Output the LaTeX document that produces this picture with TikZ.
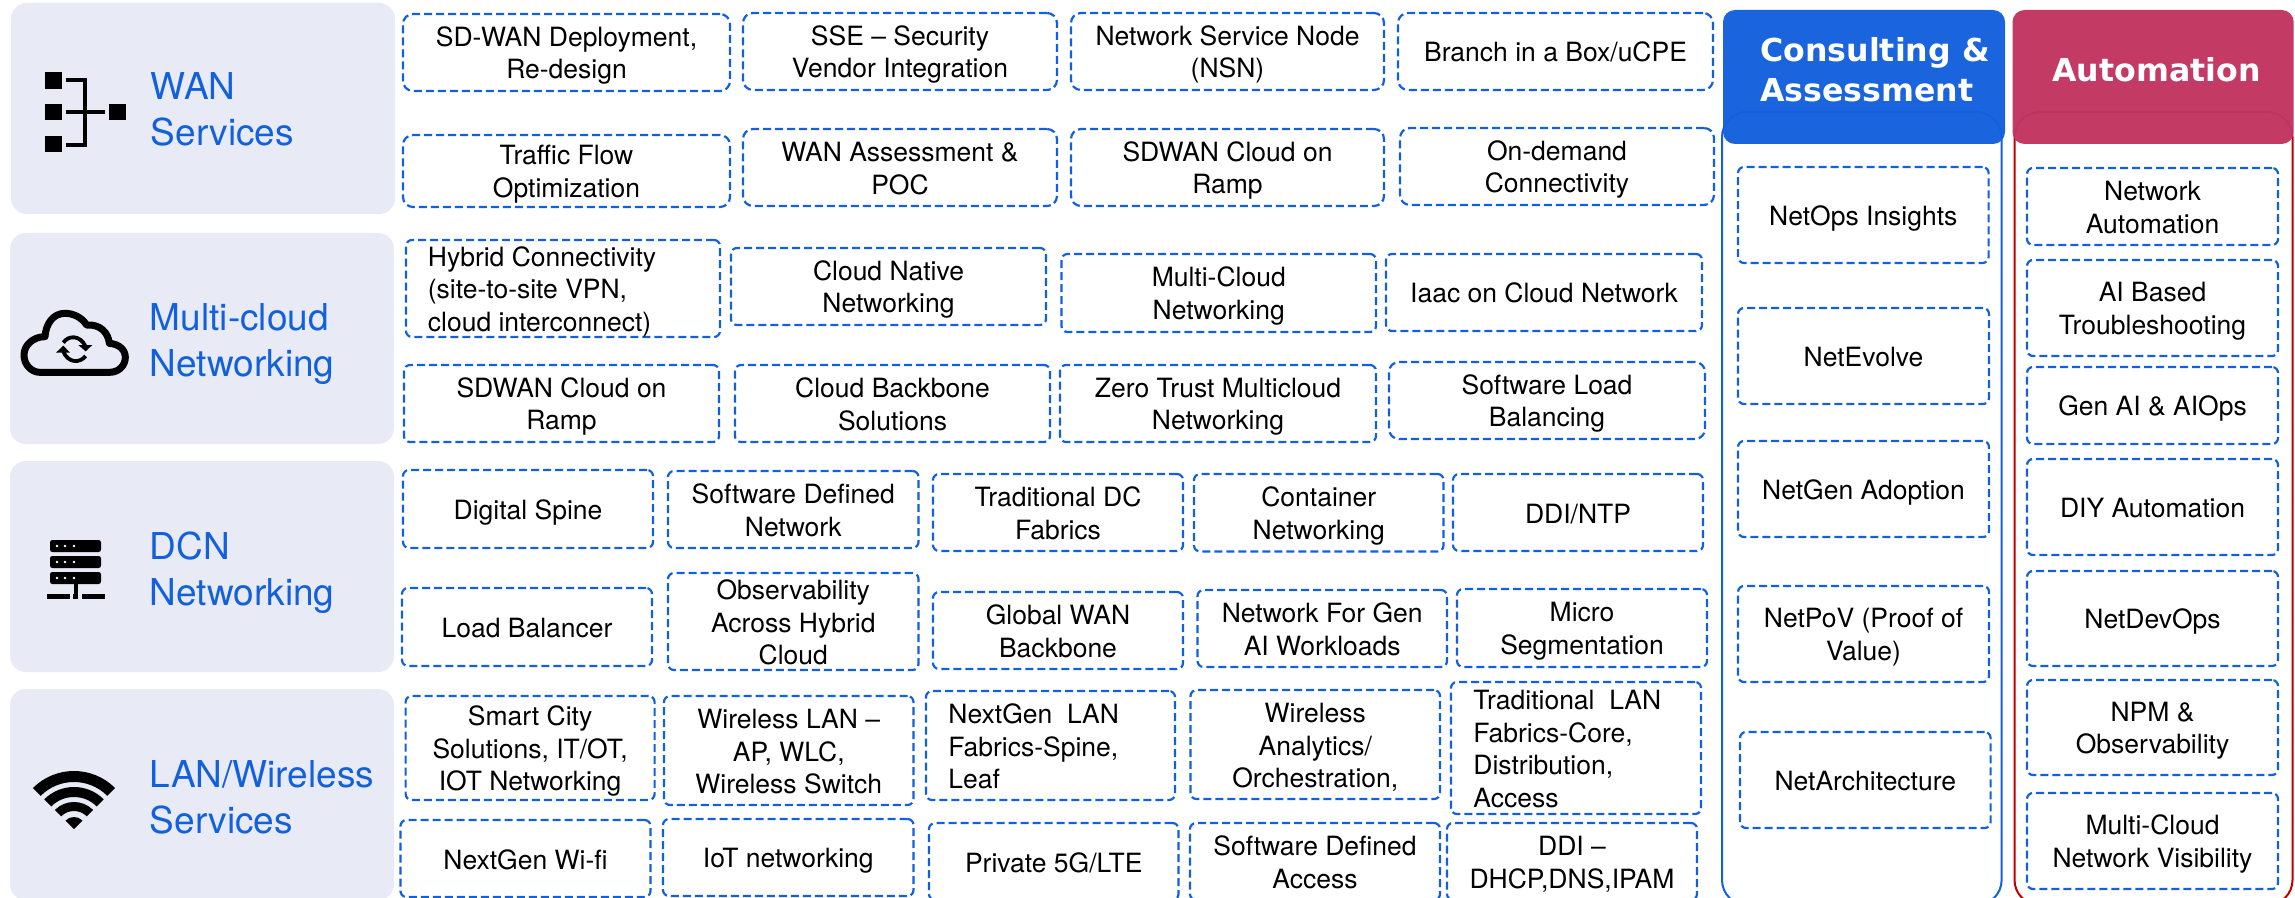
\documentclass[tikz,border=0pt]{standalone}
\usepackage{fontspec}
\setmainfont{TeX Gyre Heros}
\newfontfamily\headfont{DejaVu Sans}
\definecolor{panelc}{HTML}{E8EBF5}
\definecolor{bluec}{HTML}{1360DC}
\definecolor{rosec}{HTML}{C2345F}
\definecolor{redc}{HTML}{C00000}
\newcommand{\topstrut}{\rule{0pt}{13pt}}
\newcommand{\botstrut}{\rule[-2.5pt]{0pt}{2.5pt}}
\tikzset{
  panel/.style={fill=panelc,rounded corners=8pt,inner sep=0pt},
  bxstyle/.style={draw=bluec,line width=1.1pt,dash pattern=on 4pt off 2pt,rounded corners=3pt,inner sep=0pt,align=center,font=\fontsize{13.25}{16.3}\selectfont,text=black},
  big/.style={rounded corners=5pt},
  lefttext/.style={inner sep=0pt,align=left,anchor=west,font=\fontsize{13.25}{16.3}\selectfont,text=black},
  grouplabel/.style={inner sep=0pt,align=left,anchor=base west,font=\fontsize{18.5}{23}\selectfont,text=bluec},
  headbox/.style={rounded corners=6pt,inner sep=0pt,fill opacity=.97},
  headtext/.style={inner sep=0pt,align=left,anchor=base west,text=white,font=\headfont\bfseries\fontsize{15.8}{20.4}\selectfont},
  frame/.style={line width=1pt,rounded corners=12.5pt,fill=white},
  icon/.style={line width=1.75pt,draw=black}
}
% \pbox[opts]{name}{x0}{y0}{x1}{y1}{text}
\newcommand{\pbox}[7][]{%
  \pgfmathsetmacro{\bw}{(#5-#3)*0.5}%
  \pgfmathsetmacro{\bh}{(#6-#4)*0.5}%
  \pgfmathsetmacro{\bcx}{(#3+#5)/2}%
  \pgfmathsetmacro{\bcy}{(#4+#6)/2}%
  \node[bxstyle,#1,minimum width=\bw pt,minimum height=\bh pt] (#2) at (\bcx,\bcy) {\topstrut#7\botstrut};%
}
\newcommand{\spanel}[5]{%
  \pgfmathsetmacro{\bw}{(#4-#2)*0.5}%
  \pgfmathsetmacro{\bh}{(#5-#3)*0.5}%
  \pgfmathsetmacro{\bcx}{(#2+#4)/2}%
  \pgfmathsetmacro{\bcy}{(#3+#5)/2}%
  \node[panel,minimum width=\bw pt,minimum height=\bh pt] (#1) at (\bcx,\bcy) {};%
}
\begin{document}
\begin{tikzpicture}[x=0.5pt,y=-0.5pt]
\useasboundingbox (0,0) rectangle (2295,898);
\clip (0,0) rectangle (2295,898);
\fill[white] (0,0) rectangle (2295,898);
% panels
\spanel{pwan}{11}{3}{395}{214}
\spanel{pmc}{10}{233}{394}{444}
\spanel{pdcn}{10}{461}{394}{672}
\spanel{plan}{10}{689}{394}{900}
\node[grouplabel] (lwan) at (150.5,146) {WAN\\Services};
\node[grouplabel] (lmc) at (149.5,377) {Multi-cloud\\Networking};
\node[grouplabel] (ldcn) at (149.5,605) {DCN\\Networking};
\node[grouplabel] (llan) at (149.5,833) {LAN/Wireless\\Services};
% WAN icon
\fill (45.4,72) rectangle (62,89);
\fill (45.4,104) rectangle (62,120);
\fill (45.4,136) rectangle (62,152);
\fill (109,104) rectangle (125.5,120);
\draw[icon] (66,80) -- (85,80) -- (85,145) -- (66,145);
\draw[icon] (66,112) -- (105,112);
% cloud icon
\begin{scope}[shift={(20,280)},x=.16667pt,y=-.16667pt]
\draw[line width=3.5pt,line join=round] (60,277) -- (268,277) .. controls (298,277) and (316,255) .. (316,232) .. controls (316,210) and (298,192) .. (268,190) .. controls (265,158) and (240,132) .. (200,135) .. controls (185,112) and (160,100) .. (135,100) .. controls (100,100) and (78,130) .. (75,170) .. controls (40,170) and (12,195) .. (12,225) .. controls (12,255) and (35,277) .. (60,277) -- cycle;
\draw[line width=1.9pt] (130,188) .. controls (145,165) and (180,165) .. (196,198);
\draw[line width=1.9pt] (197,228) .. controls (180,250) and (145,250) .. (130,215);
\fill (175,195) -- (217,195) -- (197,214) -- cycle;
\fill (108,218) -- (150,218) -- (130,197) -- cycle;
\end{scope}
% server icon
\foreach \yy in {540,556,572}{
  \fill[rounded corners=1.2pt] (50,\yy) rectangle (101,\yy+12);
  \foreach \xx in {57,65,74}{ \fill[white] (\xx,\yy+6) circle[radius=1.4]; }
}
\fill (73.5,584) rectangle (77.5,597);
\fill (47,594) rectangle (70,599);
\fill (73,594) rectangle (78,599);
\fill (81.6,594) rectangle (104.6,599);
% wifi icon
\begin{scope}[shift={(74,829)},x=.5pt,y=.5pt]
\fill (45:58) arc[start angle=45,end angle=135,radius=58] -- (135:47) arc[start angle=135,end angle=45,radius=47] -- cycle;
\fill (45:42) arc[start angle=45,end angle=135,radius=42] -- (135:32) arc[start angle=135,end angle=45,radius=32] -- cycle;
\fill (45:27) arc[start angle=45,end angle=135,radius=27] -- (135:18) arc[start angle=135,end angle=45,radius=18] -- cycle;
\fill (0,0) -- (45:12) arc[start angle=45,end angle=135,radius=12] -- cycle;
\end{scope}
% WAN boxes
\pbox[big]{a1}{403}{14}{730}{91}{SD-WAN Deployment,\\Re-design}
\pbox[big]{a2}{743}{13}{1057}{90}{SSE -- Security\\Vendor Integration}
\pbox[big]{a3}{1071}{13}{1384}{90}{Network Service Node\\(NSN)}
\pbox[big]{a4}{1398}{13}{1713}{90}{Branch in a Box/uCPE}
\pbox[big]{b1}{403}{135}{730}{207}{Traffic Flow\\Optimization}
\pbox[big]{b2}{743}{129}{1057}{206}{WAN Assessment \&\\POC}
\pbox[big]{b3}{1071}{129}{1384}{206}{SDWAN Cloud on\\Ramp}
\pbox[big]{b4}{1400}{128}{1714}{205}{On-demand\\Connectivity}
% Multi-cloud boxes
\pbox{c1}{406}{240}{720}{337}{}
\node[lefttext] (c1t) at (427.5,288.5) {\topstrut Hybrid Connectivity\\(site-to-site VPN,\\cloud interconnect)\botstrut};
\pbox{c2}{731}{248}{1046}{325}{Cloud Native\\Networking}
\pbox{c3}{1061.5}{254}{1376}{332}{Multi-Cloud\\Networking}
\pbox{c4}{1386}{254}{1702}{331}{Iaac on Cloud Network}
\pbox{d1}{404}{365}{719}{442}{SDWAN Cloud on\\Ramp}
\pbox{d2}{735}{365}{1050}{442}{Cloud Backbone\\Solutions}
\pbox{d3}{1060}{365}{1376}{442}{Zero Trust Multicloud\\Networking}
\pbox[big]{d4}{1389}{362}{1705}{439}{Software Load\\Balancing}
% DCN boxes
\pbox{e1}{403}{470}{653}{548}{Digital Spine}
\pbox{e2}{668}{471}{918.5}{548}{Software Defined\\Network}
\pbox{e3}{933}{474}{1183}{551}{Traditional DC\\Fabrics}
\pbox{e4}{1194}{474}{1443.5}{551.5}{Container\\Networking}
\pbox{e5}{1453}{474}{1703}{551}{DDI/NTP}
\pbox{f1}{402}{588}{652}{666}{Load Balancer}
\pbox{f2}{668}{573}{918.5}{670}{Observability\\Across Hybrid\\Cloud}
\pbox{f3}{933}{592}{1183}{669}{Global WAN\\Backbone}
\pbox{f4}{1197.5}{590}{1447}{667}{Network For Gen\\AI Workloads}
\pbox{f5}{1457}{589}{1707}{667}{Micro\\Segmentation}
% LAN boxes
\pbox{g1}{405.6}{696}{654.6}{800}{Smart City\\Solutions, IT/OT,\\IOT Networking}
\pbox{g2}{664}{696}{913.5}{805}{Wireless LAN --\\AP, WLC,\\Wireless Switch}
\pbox{g3}{926}{691}{1175}{800}{}
\node[lefttext] (g3t) at (948,745.5) {\topstrut NextGen\ \ LAN\\Fabrics-Spine,\\Leaf\botstrut};
\pbox{g4}{1190.5}{690}{1440}{799}{Wireless\\Analytics/\\Orchestration,}
\pbox{g5}{1451}{682}{1701}{814}{}
\node[lefttext] (g5t) at (1473,748) {\topstrut Traditional\ \ LAN\\Fabrics-Core,\\Distribution,\\Access\botstrut};
\pbox{h1}{400.5}{820}{650.5}{897}{NextGen Wi-fi}
\pbox{h2}{663}{819}{913.5}{896}{IoT networking}
\pbox{h3}{929}{823}{1178.5}{900}{Private 5G/LTE}
\pbox{h4}{1190}{823}{1440}{900}{Software Defined\\Access}
\pbox{h5}{1447}{823}{1697}{900}{DDI --\\DHCP,DNS,IPAM}
% right columns
\path[frame,draw=bluec] (1722,112) rectangle (2001.6,905);
\path[frame,draw=redc] (2014.5,112) rectangle (2292.5,905);
\node[headbox,fill=bluec,minimum width=141pt,minimum height=67pt] (h1head) at (1864,77) {};
\node[headbox,fill=rosec,minimum width=140.6pt,minimum height=67pt] (h2head) at (2153.1,77) {};
\node[headtext] (h1t) at (1760,102) {Consulting \&\\Assessment};
\node[headtext] (h2t) at (2052,82) {Automation};
\pbox{i1}{1738}{167}{1988.6}{263}{NetOps Insights}
\pbox{i2}{1738}{308}{1989}{404}{NetEvolve}
\pbox{i3}{1738}{441}{1989}{537}{NetGen Adoption}
\pbox{i4}{1738}{586}{1989}{682}{NetPoV (Proof of\\Value)}
\pbox{i5}{1740}{732}{1990.6}{828}{NetArchitecture}
\pbox{j1}{2027}{168}{2278}{245}{Network\\Automation}
\pbox{j2}{2027}{260}{2278}{356}{AI Based\\Troubleshooting}
\pbox{j3}{2027}{367}{2278}{444}{Gen AI \& AIOps}
\pbox{j4}{2027}{459}{2278}{555}{DIY Automation}
\pbox{j5}{2027}{571}{2278}{666}{NetDevOps}
\pbox{j6}{2027}{680}{2278}{775}{NPM \&\\Observability}
\pbox{j7}{2027}{793}{2278}{889}{Multi-Cloud\\Network Visibility}
\end{tikzpicture}
\end{document}
